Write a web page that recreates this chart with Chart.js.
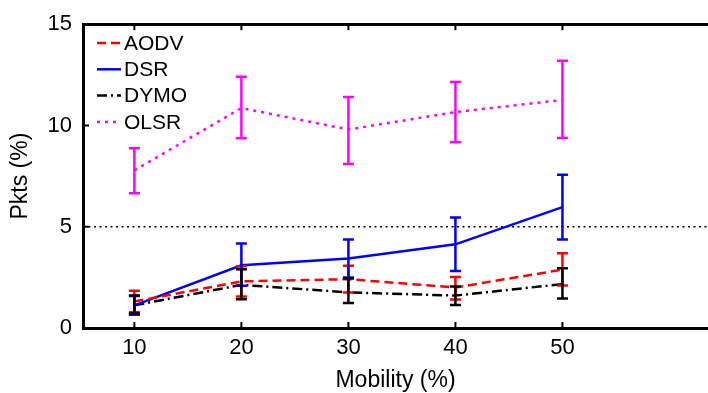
<!DOCTYPE html>
<html>
<head>
<meta charset="utf-8">
<script src="https://cdn.jsdelivr.net/npm/chart.js@4.4.0/dist/chart.umd.min.js"></script>
<style>
    html, body { margin: 0; padding: 0; background: #fff; overflow: hidden; }
    #wrap { width: 708px; height: 393px; position: relative; }
</style>
</head>
<body>
<div id="wrap"><canvas id="pkts-chart" width="708" height="393"></canvas></div>
<script>
    "use strict";

    // mobility (%) on the x axis
    var mobility = [10, 20, 30, 40, 50];
    var xTicks = [10, 20, 30, 40, 50];
    var yTicks = [0, 5, 10, 15];
    var thresholdValue = 5;

    // packets (%) - mean and error bar ends
    var aodvMean = [1.31, 2.30, 2.41, 2.00, 2.88];
    var aodvLow = [0.78, 1.55, 1.75, 1.41, 2.10];
    var aodvHigh = [1.84, 3.05, 3.07, 2.52, 3.69];

    var dsrMean = [1.12, 3.10, 3.43, 4.13, 5.97];
    var dsrLow = [0.66, 2.09, 2.49, 2.82, 4.37];
    var dsrHigh = [1.58, 4.17, 4.37, 5.45, 7.57];

    var dymoMean = [1.12, 2.13, 1.76, 1.60, 2.17];
    var dymoLow = [0.71, 1.42, 1.23, 1.13, 1.46];
    var dymoHigh = [1.60, 2.90, 2.44, 2.05, 2.95];

    var olsrMean = [7.78, 10.86, 9.80, 10.66, 11.26];
    var olsrLow = [6.65, 9.37, 8.10, 9.17, 9.38];
    var olsrHigh = [8.88, 12.41, 11.40, 12.15, 13.19];

    var FONT = '"Liberation Sans", Arial, Helvetica, sans-serif';

    function toPoints(values) {
        return values.map(function (v, i) { return {x: mobility[i], y: v}; });
    }

    function series(label, values, low, high, color, dash) {
        return {
            label: label,
            data: toPoints(values),
            errLow: low,
            errHigh: high,
            borderColor: color,
            backgroundColor: color,
            borderWidth: 2.5,
            borderDash: dash,
            pointRadius: 0,
            tension: 0,
            fill: false
        };
    }

    // error bars, drawn through the chart's own scales
    var errorBarPlugin = {
        id: 'errorBars',
        afterDatasetsDraw: function (chart) {
            var ctx = chart.ctx, xs = chart.scales.x, ys = chart.scales.y;
            ctx.save();
            ctx.setLineDash([]);
            ctx.lineWidth = 2.5;
            chart.data.datasets.forEach(function (ds) {
                ctx.strokeStyle = ds.borderColor;
                for (var i = 0; i < mobility.length; i++) {
                    var px = xs.getPixelForValue(mobility[i]);
                    var top = ys.getPixelForValue(ds.errHigh[i]);
                    var bot = ys.getPixelForValue(ds.errLow[i]);
                    ctx.beginPath();
                    ctx.moveTo(px, top); ctx.lineTo(px, bot);
                    ctx.moveTo(px - 5.5, top); ctx.lineTo(px + 5.5, top);
                    ctx.moveTo(px - 5.5, bot); ctx.lineTo(px + 5.5, bot);
                    ctx.stroke();
                }
            });
            ctx.restore();
        }
    };

    // dotted reference line, inward ticks and the legend box
    var framePlugin = {
        id: 'frameExtras',
        beforeDatasetsDraw: function (chart) {
            var ctx = chart.ctx, area = chart.chartArea, ys = chart.scales.y;
            var py = ys.getPixelForValue(thresholdValue);
            ctx.save();
            ctx.strokeStyle = '#000';
            ctx.lineWidth = 1.5;
            ctx.setLineDash([2, 3.5]);
            ctx.beginPath();
            ctx.moveTo(area.left, py);
            ctx.lineTo(area.right, py);
            ctx.stroke();
            ctx.restore();
        },
        afterDraw: function (chart) {
            var ctx = chart.ctx, area = chart.chartArea;
            var xs = chart.scales.x, ys = chart.scales.y;
            ctx.save();
            ctx.strokeStyle = '#000';
            ctx.lineWidth = 2;
            ctx.setLineDash([]);
            ctx.beginPath();
            xTicks.forEach(function (t) {
                var px = xs.getPixelForValue(t);
                ctx.moveTo(px, area.top); ctx.lineTo(px, area.top + 6);
                ctx.moveTo(px, area.bottom); ctx.lineTo(px, area.bottom - 6);
            });
            yTicks.forEach(function (t) {
                var py = ys.getPixelForValue(t);
                ctx.moveTo(area.left, py); ctx.lineTo(area.left + 6, py);
            });
            ctx.stroke();

            // legend
            var lx = 97, ly = 43, step = 26.3;
            ctx.font = '21px ' + FONT;
            ctx.textBaseline = 'middle';
            ctx.textAlign = 'left';
            chart.data.datasets.forEach(function (ds, i) {
                var y = ly + i * step;
                ctx.strokeStyle = ds.borderColor;
                ctx.lineWidth = 2.5;
                ctx.setLineDash(ds.borderDash || []);
                ctx.beginPath();
                ctx.moveTo(lx, y);
                ctx.lineTo(lx + 24, y);
                ctx.stroke();
                ctx.fillStyle = '#000';
                ctx.fillText(ds.label, lx + 27, y + 1);
            });
            ctx.restore();
        }
    };

    var ctx = document.getElementById('pkts-chart').getContext('2d');
    var chart = new Chart(ctx, {
        type: 'line',
        data: {
            datasets: [
                series('AODV', aodvMean, aodvLow, aodvHigh, '#ff0000', [9, 5]),
                series('DSR', dsrMean, dsrLow, dsrHigh, '#0000ff', []),
                series('DYMO', dymoMean, dymoLow, dymoHigh, '#000000', [10, 4, 2, 4]),
                series('OLSR', olsrMean, olsrLow, olsrHigh, '#ff00ff', [3, 5])
            ]
        },
        options: {
            responsive: false,
            animation: false,
            devicePixelRatio: 1,
            layout: {padding: 0},
            plugins: {
                legend: {display: false},
                tooltip: {enabled: false}
            },
            scales: {
                x: {
                    type: 'linear',
                    position: 'bottom',
                    min: 5.2,
                    max: 63.6,
                    afterBuildTicks: function (scale) {
                        scale.ticks = xTicks.map(function (v) { return {value: v}; });
                    },
                    afterFit: function (scale) { scale.height = 65; },
                    grid: {display: false, drawTicks: false},
                    border: {display: true, color: '#000', width: 3},
                    ticks: {
                        color: '#000',
                        padding: 7,
                        maxRotation: 0,
                        font: {family: FONT, size: 22}
                    },
                    title: {
                        display: true,
                        text: 'Mobility (%)',
                        color: '#000',
                        padding: {top: 0, bottom: -1},
                        font: {family: FONT, size: 23}
                    }
                },
                xTop: {
                    type: 'linear',
                    position: 'top',
                    min: 5.2,
                    max: 63.6,
                    afterFit: function (scale) { scale.height = 19; },
                    grid: {display: false, drawTicks: false},
                    border: {display: true, color: '#000', width: 3},
                    ticks: {display: false}
                },
                y: {
                    type: 'linear',
                    min: 0,
                    max: 15,
                    afterBuildTicks: function (scale) {
                        scale.ticks = yTicks.map(function (v) { return {value: v}; });
                    },
                    afterFit: function (scale) { scale.width = 83; },
                    grid: {display: false, drawTicks: false},
                    border: {display: true, color: '#000', width: 3},
                    ticks: {
                        color: '#000',
                        padding: 11,
                        font: {family: FONT, size: 22}
                    },
                    title: {
                        display: true,
                        text: 'Pkts (%)',
                        color: '#000',
                        padding: {top: 7, bottom: 0},
                        font: {family: FONT, size: 23}
                    }
                }
            }
        },
        plugins: [framePlugin, errorBarPlugin]
    });
</script>
</body>
</html>
